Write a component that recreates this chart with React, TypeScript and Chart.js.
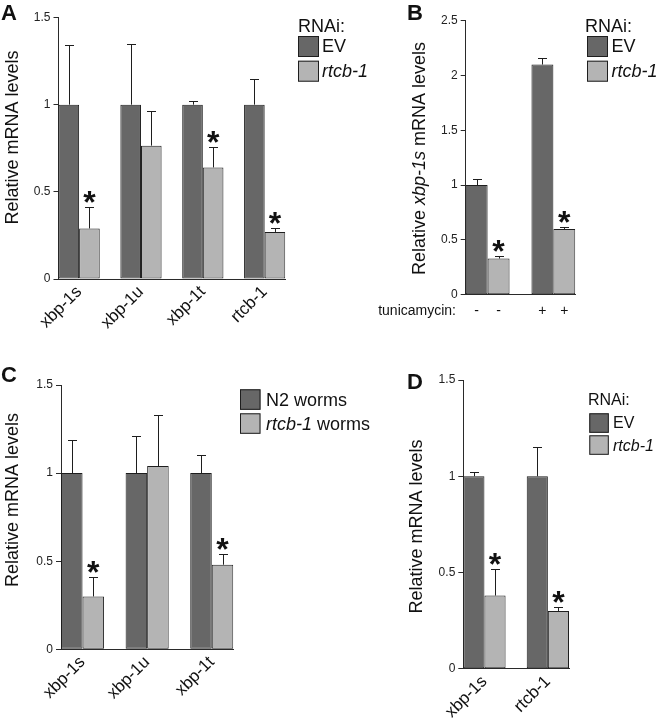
import React, { useEffect, useRef } from 'react';
import { Chart, registerables } from 'chart.js';

Chart.register(...registerables);

const FONT = '"Liberation Sans", Arial, Helvetica, sans-serif';
const DARK = '#676767';
const LIGHT = '#b4b4b4';
const EDGE = '#1e1e1e';
const AXIS = '#2a2a2a';
const STAR_SIZE = 32;

// ---------- Panel A ----------
const aCategories = ['xbp-1s', 'xbp-1u', 'xbp-1t', 'rtcb-1'];
const aEV = [1, 1, 1, 1];
const aEVErr = [0.34, 0.35, 0.02, 0.15];
const aRtcb = [0.29, 0.765, 0.64, 0.27];
const aRtcbErr = [0.125, 0.2, 0.115, 0.023];
const aSig = [true, false, true, true];
const aTicks = [0, 0.5, 1, 1.5];

// ---------- Panel B ----------
const bTunicamycin = ['-', '+'];
const bEV = [1.0, 2.1];
const bEVErr = [0.06, 0.06];
const bRtcb = [0.33, 0.6];
const bRtcbErr = [0.02, 0.02];
const bSig = [true, true];
const bTicks = [0, 0.5, 1, 1.5, 2, 2.5];

// ---------- Panel C ----------
const cCategories = ['xbp-1s', 'xbp-1u', 'xbp-1t'];
const cN2 = [1, 1, 1];
const cN2Err = [0.19, 0.21, 0.1];
const cRtcb = [0.3, 1.04, 0.48];
const cRtcbErr = [0.11, 0.29, 0.06];
const cSig = [true, false, true];
const cTicks = [0, 0.5, 1, 1.5];

// ---------- Panel D ----------
const dCategories = ['xbp-1s', 'rtcb-1'];
const dEV = [1, 1];
const dEVErr = [0.02, 0.15];
const dRtcb = [0.38, 0.3];
const dRtcbErr = [0.14, 0.02];
const dSig = [true, true];
const dTicks = [0, 0.5, 1, 1.5];

type Run = { t: string; i?: boolean };
type Series = { label: Run[]; values: number[]; errors: number[]; color: string; sig?: boolean[] };
type PanelSpec = {
  box: { left: number; top: number; width: number; height: number };
  area: { left: number; top: number; right: number; bottom: number };
  categories: string[];
  showCategoryLabels: boolean;
  yMax: number;
  yTicks: number[];
  series: Series[];
  letter: { text: string; x: number; y: number };
  yTitle: { runs: Run[]; x: number; y: number };
  legend: {
    title?: string;
    titleX?: number;
    titleY?: number;
    boxX: number;
    boxTop: number;
    boxSize: number;
    rowStep: number;
    textX: number;
    font: number;
  };
  bottomRow?: { label: string; signs: string[]; labelRight: number; y: number; font: number };
};

const fontStr = (size: number, italic?: boolean, bold?: boolean) =>
  `${italic ? 'italic ' : ''}${bold ? 'bold ' : ''}${size}px ${FONT}`;

function drawRuns(ctx: CanvasRenderingContext2D, runs: Run[], x: number, y: number, size: number, align: 'left' | 'center') {
  let total = 0;
  for (const r of runs) {
    ctx.font = fontStr(size, r.i);
    total += ctx.measureText(r.t).width;
  }
  let cx = align === 'center' ? x - total / 2 : x;
  ctx.textAlign = 'left';
  for (const r of runs) {
    ctx.font = fontStr(size, r.i);
    ctx.fillText(r.t, cx, y);
    cx += ctx.measureText(r.t).width;
  }
}

function makePlugin(spec: PanelSpec) {
  return {
    id: 'panelDecor',
    afterDatasetsDraw(chart: any) {
      const ctx: CanvasRenderingContext2D = chart.ctx;
      const yScale = chart.scales.y;
      ctx.save();
      spec.series.forEach((s, d) => {
        const meta = chart.getDatasetMeta(d);
        meta.data.forEach((el: any, i: number) => {
          const x = Math.round(el.x) + 0.5;
          const errTop = yScale.getPixelForValue(s.values[i] + s.errors[i]);
          const ey = Math.round(errTop) + 0.5;
          ctx.strokeStyle = EDGE;
          ctx.lineWidth = 1;
          ctx.beginPath();
          ctx.moveTo(x, el.y);
          ctx.lineTo(x, ey);
          ctx.moveTo(x - 4.5, ey);
          ctx.lineTo(x + 4.5, ey);
          ctx.stroke();
          if (s.sig && s.sig[i]) {
            ctx.font = fontStr(STAR_SIZE, false, true);
            ctx.textAlign = 'center';
            ctx.textBaseline = 'alphabetic';
            const m = ctx.measureText('*');
            ctx.fillStyle = '#111';
            ctx.fillText('*', el.x, errTop - 4 - m.actualBoundingBoxDescent);
          }
        });
      });
      ctx.restore();
    },
    afterDraw(chart: any) {
      const ctx: CanvasRenderingContext2D = chart.ctx;
      ctx.save();
      ctx.fillStyle = '#111';
      // panel letter
      ctx.font = fontStr(22, false, true);
      ctx.textAlign = 'left';
      ctx.textBaseline = 'alphabetic';
      ctx.fillText(spec.letter.text, spec.letter.x, spec.letter.y);
      // y title
      ctx.save();
      ctx.translate(spec.yTitle.x, spec.yTitle.y);
      ctx.rotate(-Math.PI / 2);
      ctx.textBaseline = 'alphabetic';
      drawRuns(ctx, spec.yTitle.runs, 0, 0, 18, 'center');
      ctx.restore();
      // legend
      const L = spec.legend;
      if (L.title) {
        ctx.font = fontStr(L.font);
        ctx.textBaseline = 'alphabetic';
        ctx.textAlign = 'left';
        ctx.fillText(L.title, L.titleX!, L.titleY!);
      }
      spec.series.forEach((s, k) => {
        const y = L.boxTop + k * L.rowStep;
        ctx.fillStyle = s.color;
        ctx.fillRect(L.boxX, y, L.boxSize, L.boxSize);
        ctx.strokeStyle = EDGE;
        ctx.lineWidth = 1;
        ctx.strokeRect(L.boxX + 0.5, y + 0.5, L.boxSize - 1, L.boxSize - 1);
        ctx.fillStyle = '#111';
        ctx.textBaseline = 'middle';
        drawRuns(ctx, s.label, L.textX, y + L.boxSize / 2 + 1, L.font, 'left');
      });
      // bottom row (tunicamycin)
      if (spec.bottomRow) {
        const B = spec.bottomRow;
        ctx.fillStyle = '#111';
        ctx.font = fontStr(B.font);
        ctx.textBaseline = 'middle';
        ctx.textAlign = 'right';
        ctx.fillText(B.label, B.labelRight, B.y);
        ctx.textAlign = 'center';
        spec.series.forEach((_, d) => {
          const meta = chart.getDatasetMeta(d);
          meta.data.forEach((el: any, i: number) => {
            ctx.fillText(B.signs[i], el.x, B.y);
          });
        });
      }
      ctx.restore();
    },
  };
}

function buildConfig(spec: PanelSpec): any {
  const n = spec.categories.length;
  return {
    type: 'bar',
    data: {
      datasets: spec.series.map((s) => ({
        label: s.label.map((r) => r.t).join(''),
        data: s.values.map((v, i) => ({ x: i, y: v })),
        backgroundColor: s.color,
        borderColor: EDGE,
        borderWidth: 1,
        borderSkipped: false,
        categoryPercentage: 2 / 3,
        barPercentage: 1,
      })),
    },
    options: {
      responsive: false,
      animation: false,
      layout: {
        padding: { left: 0, bottom: 0, top: spec.area.top, right: spec.box.width - spec.area.right },
      },
      plugins: { legend: { display: false }, tooltip: { enabled: false } },
      scales: {
        x: {
          type: 'linear',
          bounds: 'data',
          offset: false,
          min: -1 / 3,
          max: n - 1 + 1 / 3,
          afterBuildTicks: (scale: any) => {
            scale.ticks = spec.categories.map((_, i) => ({ value: i }));
          },
          afterFit: (scale: any) => {
            scale.height = spec.box.height - spec.area.bottom;
          },
          grid: { display: false, drawTicks: false },
          border: { display: true, color: AXIS, width: 1 },
          ticks: {
            display: spec.showCategoryLabels,
            autoSkip: false,
            maxRotation: 45,
            minRotation: 45,
            padding: 3,
            color: '#111',
            font: { family: FONT, size: 17 },
            callback: (_v: any, i: number) => spec.categories[i],
          },
        },
        y: {
          type: 'linear',
          bounds: 'data',
          min: 0,
          max: spec.yMax,
          afterBuildTicks: (scale: any) => {
            scale.ticks = spec.yTicks.map((v) => ({ value: v }));
          },
          afterFit: (scale: any) => {
            scale.width = spec.area.left;
          },
          grid: { drawOnChartArea: false, drawTicks: true, tickLength: 5, color: AXIS, lineWidth: 1 },
          border: { display: true, color: AXIS, width: 1 },
          ticks: {
            padding: 3,
            color: '#222',
            font: { family: FONT, size: 12 },
            callback: (v: any) => String(v),
          },
        },
      },
    },
    plugins: [makePlugin(spec)],
  };
}

const mRNA: Run[] = [{ t: 'Relative mRNA levels' }];

const panelA: PanelSpec = {
  box: { left: 0, top: 0, width: 400, height: 345 },
  area: { left: 58.5, top: 17.5, right: 285.3, bottom: 279 },
  categories: aCategories,
  showCategoryLabels: true,
  yMax: 1.5,
  yTicks: aTicks,
  series: [
    { label: [{ t: 'EV' }], values: aEV, errors: aEVErr, color: DARK },
    { label: [{ t: 'rtcb-1', i: true }], values: aRtcb, errors: aRtcbErr, color: LIGHT, sig: aSig },
  ],
  letter: { text: 'A', x: 1, y: 20 },
  yTitle: { runs: mRNA, x: 18, y: 137.5 },
  legend: { title: 'RNAi:', titleX: 298, titleY: 32, boxX: 298, boxTop: 36, boxSize: 21, rowStep: 24.7, textX: 322, font: 18 },
};

const panelB: PanelSpec = {
  box: { left: 360, top: 0, width: 303, height: 345 },
  area: { left: 105.7, top: 20.7, right: 215.3, bottom: 294.7 },
  categories: bTunicamycin,
  showCategoryLabels: false,
  yMax: 2.5,
  yTicks: bTicks,
  series: [
    { label: [{ t: 'EV' }], values: bEV, errors: bEVErr, color: DARK },
    { label: [{ t: 'rtcb-1', i: true }], values: bRtcb, errors: bRtcbErr, color: LIGHT, sig: bSig },
  ],
  letter: { text: 'B', x: 47, y: 20 },
  yTitle: { runs: [{ t: 'Relative ' }, { t: 'xbp-1s', i: true }, { t: ' mRNA levels' }], x: 65, y: 158.5 },
  legend: { title: 'RNAi:', titleX: 225, titleY: 32, boxX: 227, boxTop: 36, boxSize: 21, rowStep: 24.7, textX: 251.5, font: 18 },
  bottomRow: { label: 'tunicamycin:', signs: bTunicamycin, labelRight: 96, y: 311.5, font: 14 },
};

const panelC: PanelSpec = {
  box: { left: 0, top: 355, width: 400, height: 365 },
  area: { left: 61, top: 30, right: 233.3, bottom: 294.3 },
  categories: cCategories,
  showCategoryLabels: true,
  yMax: 1.5,
  yTicks: cTicks,
  series: [
    { label: [{ t: 'N2 worms' }], values: cN2, errors: cN2Err, color: DARK },
    { label: [{ t: 'rtcb-1', i: true }, { t: ' worms' }], values: cRtcb, errors: cRtcbErr, color: LIGHT, sig: cSig },
  ],
  letter: { text: 'C', x: 1, y: 26.5 },
  yTitle: { runs: mRNA, x: 18, y: 145 },
  legend: { boxX: 240, boxTop: 34.3, boxSize: 20.5, rowStep: 24, textX: 266, font: 18 },
};

const panelD: PanelSpec = {
  box: { left: 400, top: 355, width: 263, height: 365 },
  area: { left: 63.3, top: 25, right: 169, bottom: 313.7 },
  categories: dCategories,
  showCategoryLabels: true,
  yMax: 1.5,
  yTicks: dTicks,
  series: [
    { label: [{ t: 'EV' }], values: dEV, errors: dEVErr, color: DARK },
    { label: [{ t: 'rtcb-1', i: true }], values: dRtcb, errors: dRtcbErr, color: LIGHT, sig: dSig },
  ],
  letter: { text: 'D', x: 7, y: 34 },
  yTitle: { runs: mRNA, x: 22, y: 171.5 },
  legend: { title: 'RNAi:', titleX: 188, titleY: 50, boxX: 189.3, boxTop: 58.3, boxSize: 19.5, rowStep: 22, textX: 213, font: 16 },
};

function Panel({ spec }: { spec: PanelSpec }) {
  const ref = useRef<HTMLCanvasElement>(null);
  useEffect(() => {
    const chart = new Chart(ref.current as HTMLCanvasElement, buildConfig(spec));
    return () => chart.destroy();
  }, [spec]);
  return (
    <canvas
      ref={ref}
      width={spec.box.width}
      height={spec.box.height}
      style={{
        position: 'absolute',
        left: spec.box.left,
        top: spec.box.top,
        width: spec.box.width,
        height: spec.box.height,
      }}
    />
  );
}

export default function App() {
  return (
    <div style={{ position: 'absolute', left: 0, top: 0, width: 663, height: 720, background: '#fff', overflow: 'hidden' }}>
      <Panel spec={panelA} />
      <Panel spec={panelB} />
      <Panel spec={panelC} />
      <Panel spec={panelD} />
    </div>
  );
}
